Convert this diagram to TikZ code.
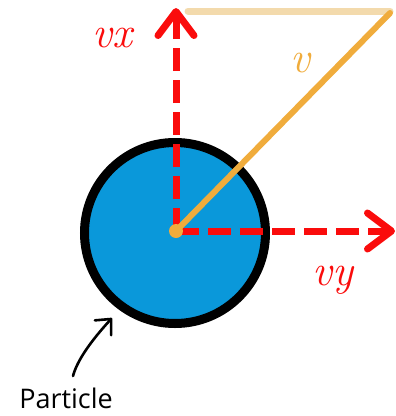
\documentclass[tikz,border=0pt]{standalone}
\usepackage{fontspec}
\setsansfont{Open Sans}
\usetikzlibrary{arrows.meta}

\definecolor{partblue}{RGB}{10,152,218}
\definecolor{vecred}{RGB}{250,12,12}
\definecolor{vorange}{RGB}{240,172,60}
\definecolor{vlight}{RGB}{243,218,172}

\begin{document}
\begin{tikzpicture}[x=1pt, y=-1pt,
        comp/.style={draw=vecred, line width=7pt, dash pattern=on 23pt off 9pt, -{Straight Barb[length=24pt, width=36pt, round]}},
        hand/.style={font=\fontsize{44}{44}\selectfont\itshape, inner sep=0pt},
        vel/.style={draw=vorange, line width=6pt, line cap=round},
        pointer/.style={draw=black, line width=2.6pt, line cap=round, -{Straight Barb[length=12pt, width=22pt, round]}}
    ]
    \useasboundingbox (0,0) rectangle (396,416);

    % Particle
    \node[circle, draw=black, fill=partblue, line width=9pt, minimum size=181pt, inner sep=0pt] (particle) at (175,233) {};
    \coordinate (o) at (176,231);

    % Velocity v and its top guide
    \coordinate (vtip) at (390,13);
    \coordinate (guide) at (188,11);
    \draw[vel, draw=vlight, line width=7pt] (guide) -- (guide -| vtip);

    % Components
    \coordinate (vxtip) at (176,8);
    \coordinate (vytip) at (395,231);
    \draw[comp] (o) -- (vxtip);
    \draw[comp] (o) -- (vytip);

    \draw[vel] (o) -- (vtip);
    \fill[vorange] (o) circle (7pt);

    % Labels
    \node[hand, text=vecred] (vxlbl) at (112,38) {vx};
    \node[hand, text=vorange] (vlbl) at (300,63) {v};
    \node[hand, text=vecred] (vylbl) at (333,280) {vy};

    % Particle pointer
    \node[font=\sffamily\fontsize{27}{30}\selectfont, inner sep=0pt] (plbl) at (66,398) {Particle};
    \coordinate (pfrom) at (73,376);
    \coordinate (pto) at (112,318);
    \draw[pointer] (pfrom) .. controls (77,361) and (90,342) .. (pto);

\end{tikzpicture}
\end{document}
